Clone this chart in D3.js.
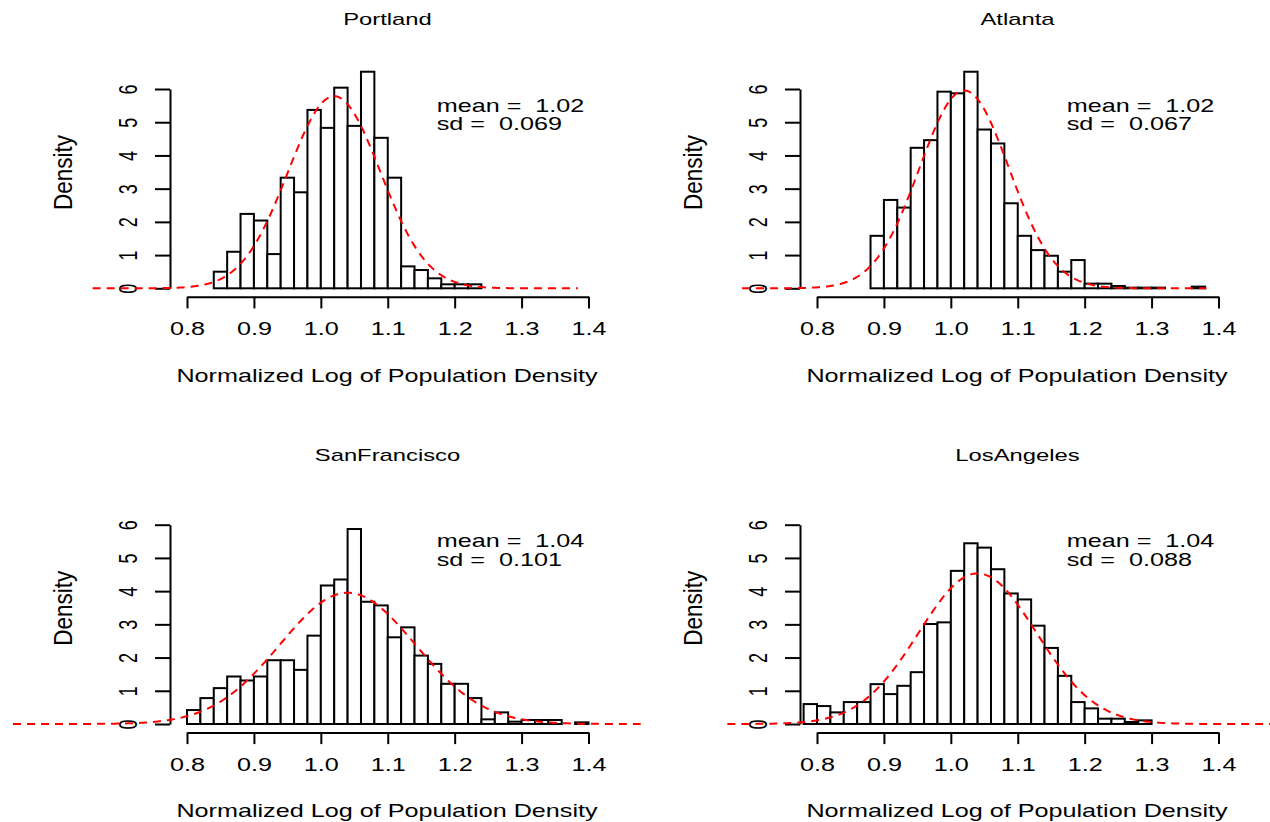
<!DOCTYPE html>
<html lang="en">
<head>
<meta charset="utf-8">
<script src="https://d3js.org/d3.v7.min.js"></script>
<title>Population Density Histograms</title>
<style>
  body { margin: 0; background: #fff; }
  text { font-family: "Liberation Sans", Arial, sans-serif; fill: #000; white-space: pre; }
</style>
</head>
<body>
<div id="container"></div>
<script>
    // one histogram per city, bins of width 0.02
    var cities = ["Portland", "Atlanta", "SanFrancisco", "LosAngeles"];
    var binWidth = 0.02;
    var binStart = [0.84, 0.88, 0.80, 0.78];

    var portlandDensity = [0.5, 1.1, 2.24, 2.04, 1.03, 3.33, 2.89, 5.37, 4.83, 6.04,
        4.89, 6.52, 4.53, 3.33, 0.66, 0.55, 0.3, 0.12, 0.12, 0.12];
    var atlantaDensity = [1.58, 2.66, 2.43, 4.23, 4.46, 5.92, 5.87, 6.52, 4.78, 4.36,
        2.56, 1.58, 1.15, 0.98, 0.5, 0.85, 0.14, 0.14, 0.07, 0.02, 0.02, 0.02, 0, 0, 0.05];
    var sanFranciscoDensity = [0.42, 0.78, 1.08, 1.43, 1.31, 1.43, 1.92, 1.92, 1.63, 2.66,
        4.17, 4.35, 5.87, 3.68, 3.57, 2.61, 2.91, 2.06, 1.81, 1.21,
        1.21, 0.78, 0.14, 0.35, 0.07, 0.12, 0.12, 0.12, 0, 0.05];
    var losAngelesDensity = [0.6, 0.54, 0.35, 0.66, 0.66, 1.2, 0.9, 1.15, 1.56, 3.01,
        3.06, 4.61, 5.44, 5.31, 4.66, 3.93, 3.75, 2.96, 2.29, 1.45,
        0.66, 0.47, 0.16, 0.16, 0.06, 0.11];
    var densities = [portlandDensity, atlantaDensity, sanFranciscoDensity, losAngelesDensity];

    // fitted normal curve for each city
    var means = [1.02, 1.02, 1.04, 1.04];
    var sds = [0.069, 0.067, 0.101, 0.088];
    var meanLabels = ["1.02", "1.02", "1.04", "1.04"];
    var sdLabels = ["0.069", "0.067", "0.101", "0.088"];
    var curveFrom = [0.659, 0.688, 0.54, 0.666];
    var curveTo = [1.384, 1.382, 1.478, 1.478];

    var xTicks = [0.8, 0.9, 1.0, 1.1, 1.2, 1.3, 1.4];
    var yTicks = [0, 1, 2, 3, 4, 5, 6];
    var xTitle = "Normalized Log of Population Density";
    var yTitle = "Density";

    var panelDx = [0, 630, 0, 630],
        panelDy = [0, 0, 435.7, 435.7];
    var stretch = 1.4;   // the picture's text is wide

    var svg = d3.select("#container")
        .append("svg")
        .attr("width", 1270)
        .attr("height", 822);
    svg.append("rect").attr("width", 1270).attr("height", 822).attr("fill", "#fff");

    function label(g, txt, x, y, size, anchor, rot, len) {
        var t = g.append("text")
            .attr("transform", "translate(" + x + "," + y + ") scale(" + stretch + ",1)" + (rot ? " rotate(-90)" : ""))
            .attr("text-anchor", anchor)
            .attr("font-size", size)
            .text(txt);
        if (len) t.attr("textLength", len).attr("lengthAdjust", "spacingAndGlyphs");
        return t;
    }

    function dnorm(v, m, s) {
        return Math.exp(-0.5 * Math.pow((v - m) / s, 2)) / (s * Math.sqrt(2 * Math.PI));
    }

    cities.forEach(function(city, i) {
        var dx = panelDx[i], dy = panelDy[i];
        var x = d3.scaleLinear().domain([0.8, 1.4]).range([187 + dx, 588.5 + dx]);
        var y = d3.scaleLinear().domain([0, 6]).range([288.3 + dy, 89 + dy]);
        var g = svg.append("g");

        var bins = densities[i].map(function(d, k) {
            return {x0: binStart[i] + k * binWidth, h: d};
        });
        g.selectAll("rect.bar")
            .data(bins)
            .enter()
            .append("rect")
            .attr("class", "bar")
            .attr("x", function(d) { return x(d.x0); })
            .attr("width", function(d) { return x(d.x0 + binWidth) - x(d.x0); })
            .attr("y", function(d) { return y(d.h); })
            .attr("height", function(d) { return y(0) - y(d.h); })
            .attr("fill", "#fff")
            .attr("stroke", "#000")
            .attr("stroke-width", 2);

        // y axis
        var ya = g.append("g")
            .attr("transform", "translate(" + (170 + dx) + ",0)")
            .call(d3.axisLeft(y).tickValues(yTicks).tickSize(15).tickSizeOuter(0).tickFormat(d3.format("d")));
        ya.selectAll("line,path").attr("stroke-width", 2);
        ya.selectAll(".tick text")
            .attr("x", null).attr("dy", null)
            .attr("text-anchor", "middle")
            .attr("font-size", 18)
            .attr("transform", "translate(-33.3,0) scale(" + stretch + ",1) rotate(-90)");

        // x axis
        var xa = g.append("g")
            .attr("transform", "translate(0," + (296.7 + dy) + ")")
            .call(d3.axisBottom(x).tickValues(xTicks).tickSize(11.7).tickSizeOuter(0).tickFormat(d3.format(".1f")));
        xa.selectAll("line,path").attr("stroke-width", 2);
        xa.selectAll(".tick text")
            .attr("y", null).attr("dy", null)
            .attr("text-anchor", "middle")
            .attr("font-size", 18)
            .attr("transform", "translate(0,38.3) scale(" + stretch + ",1)");

        // normal curve
        var pts = d3.range(0, 301).map(function(k) {
            var v = curveFrom[i] + (curveTo[i] - curveFrom[i]) * k / 300;
            return [v, dnorm(v, means[i], sds[i])];
        });
        g.append("path")
            .datum(pts)
            .attr("d", d3.line()
                .x(function(d) { return x(d[0]); })
                .y(function(d) { return y(d[1]); }))
            .attr("fill", "none")
            .attr("stroke", "#ff0000")
            .attr("stroke-width", 2)
            .attr("stroke-dasharray", "8,6");

        // texts
        label(g, city, 387.5 + dx, 25 + dy, 17, "middle", false);
        label(g, xTitle, 387 + dx, 381.7 + dy, 18, "middle", false);
        label(g, yTitle, 71.7 + dx, 172.5 + dy, 18, "middle", true, 75);
        label(g, "mean =  " + meanLabels[i], 436.7 + dx, 111.7 + dy, 18, "start", false);
        label(g, "sd =  " + sdLabels[i], 436.7 + dx, 130 + dy, 18, "start", false);
    });
</script>
</body>
</html>
